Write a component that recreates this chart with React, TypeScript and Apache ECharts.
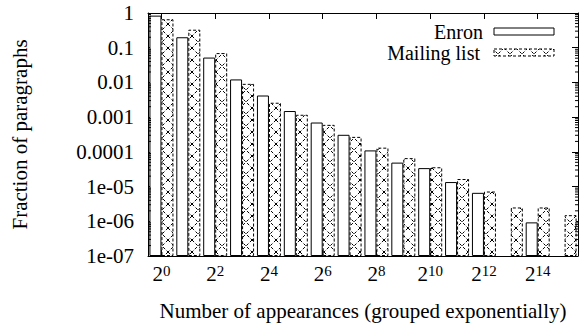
import React, { useEffect, useRef } from 'react';
import * as echarts from 'echarts';

// exponents of the category groups (2^k)
const exponents = [0, 1, 2, 3, 4, 5, 6, 7, 8, 9, 10, 11, 12, 13, 14, 15];
const seriesNames = ['Enron', 'Mailing list'];
const enron = [0.84, 0.2, 0.052, 0.0122, 0.0042, 0.0015, 0.0007, 0.00031, 0.00011, 4.9e-5, 3.4e-5, 1.35e-5, 6.6e-6, null, 9.3e-7, null];
const mailing = [0.66, 0.33, 0.07, 0.0091, 0.0026, 0.00117, 0.0006, 0.00027, 0.000132, 6.6e-5, 3.6e-5, 1.65e-5, 7.2e-6, 2.5e-6, 2.5e-6, 1.5e-6];
const yMin = 1e-7;
const yMax = 1;
const minorMultipliers = [2, 3, 4, 5, 6, 7, 8, 9];
const minorDecades = [-7, -6, -5, -4, -3, -2, -1];

const FONT = 'Liberation Serif, serif';

function makePattern(): HTMLCanvasElement {
  const c = document.createElement('canvas');
  c.width = 12;
  c.height = 12;
  const ctx = c.getContext('2d')!;
  ctx.fillStyle = '#fff';
  ctx.fillRect(0, 0, 12, 12);
  ctx.strokeStyle = '#000';
  ctx.lineWidth = 1;
  ctx.setLineDash([3, 2]);
  ctx.beginPath();
  ctx.moveTo(0, 0);
  ctx.lineTo(12, 12);
  ctx.moveTo(12, 0);
  ctx.lineTo(0, 12);
  ctx.stroke();
  return c;
}

function fmtY(v: number): string {
  const e = Math.round(Math.log10(v));
  if (e === 0) return '1';
  if (e >= -4) return (Math.pow(10, e)).toFixed(-e);
  const a = -e;
  return '1e-' + (a < 10 ? '0' + a : String(a));
}

export default function App() {
  const ref = useRef<HTMLDivElement>(null);
  useEffect(() => {
    if (!ref.current) return;
    const chart = echarts.init(ref.current, null, { renderer: 'svg' });
    const pattern = makePattern();
    const minorData: number[][] = [];
    minorDecades.forEach((d) => minorMultipliers.forEach((m) => minorData.push([0, m * Math.pow(10, d)])));
    const cats = exponents.map((e) => String(e));

    const option: any = {
      animation: false,
      backgroundColor: '#fff',
      grid: { left: 148, right: 6, top: 13, bottom: 68, containLabel: false },
      xAxis: [
        {
          type: 'category',
          data: cats,
          position: 'bottom',
          axisLine: { lineStyle: { color: '#000', width: 1 } },
          axisTick: { show: true, inside: true, length: 6, alignWithLabel: true, interval: (i: number) => i % 2 === 0, lineStyle: { color: '#000' } },
          axisLabel: {
            interval: 1,
            margin: 7,
            formatter: (v: string) => '{b|2}{s|' + v + '}',
            rich: {
              b: { fontFamily: FONT, fontSize: 21, color: '#000', lineHeight: 21, verticalAlign: 'bottom' },
              s: { fontFamily: FONT, fontSize: 15, color: '#000', lineHeight: 15, verticalAlign: 'top', padding: [0, 0, 9, 0] },
            },
          },
          name: 'Number of appearances (grouped exponentially)',
          nameLocation: 'middle',
          nameGap: 44,
          nameTextStyle: { fontFamily: FONT, fontSize: 21, color: '#000' },
          splitLine: { show: false },
        },
        {
          type: 'category',
          data: cats,
          position: 'top',
          axisLine: { lineStyle: { color: '#000', width: 1 } },
          axisTick: { show: true, inside: true, length: 6, alignWithLabel: true, interval: (i: number) => i % 2 === 0, lineStyle: { color: '#000' } },
          axisLabel: { show: false },
          splitLine: { show: false },
        },
      ],
      yAxis: [
        {
          type: 'log',
          logBase: 10,
          min: yMin,
          max: yMax,
          startValue: yMin,
          position: 'left',
          axisLine: { show: true, lineStyle: { color: '#000', width: 1 } },
          axisTick: { show: true, inside: true, length: 6, lineStyle: { color: '#000' } },
          axisLabel: { margin: 14, fontFamily: FONT, fontSize: 21, color: '#000', formatter: (v: number) => fmtY(v) },
          splitLine: { show: false },
          name: 'Fraction of paragraphs',
          nameLocation: 'middle',
          nameGap: 118,
          nameTextStyle: { fontFamily: FONT, fontSize: 21, color: '#000' },
        },
        {
          type: 'log',
          logBase: 10,
          min: yMin,
          max: yMax,
          position: 'right',
          axisLine: { show: true, lineStyle: { color: '#000', width: 1 } },
          axisTick: { show: true, inside: true, length: 6, lineStyle: { color: '#000' } },
          axisLabel: { show: false },
          splitLine: { show: false },
        },
      ],
      series: [
        {
          name: seriesNames[0],
          type: 'bar',
          data: enron,
          barWidth: 12,
          barGap: '0%',
          itemStyle: { color: '#fff', borderColor: '#000', borderWidth: 1 },
        },
        {
          name: seriesNames[1],
          type: 'bar',
          data: mailing,
          barWidth: 12,
          barGap: '0%',
          itemStyle: { color: { image: pattern, repeat: 'repeat' }, borderColor: '#000', borderWidth: 1, borderType: [3, 2] },
        },
        {
          type: 'custom',
          data: minorData,
          encode: { x: 0, y: 1 },
          silent: true,
          z: 5,
          renderItem: (params: any, api: any) => {
            const cs = params.coordSys;
            const y = api.coord([0, api.value(1)])[1];
            return {
              type: 'group',
              children: [
                { type: 'line', shape: { x1: cs.x, y1: y, x2: cs.x + 3, y2: y }, style: { stroke: '#000', lineWidth: 1 } },
                { type: 'line', shape: { x1: cs.x + cs.width - 3, y1: y, x2: cs.x + cs.width, y2: y }, style: { stroke: '#000', lineWidth: 1 } },
              ],
            };
          },
        },
      ],
      graphic: [
        { type: 'text', x: 483, y: 32, style: { text: seriesNames[0], font: '20px ' + FONT, fill: '#000', textAlign: 'right', textVerticalAlign: 'middle' } },
        { type: 'rect', shape: { x: 494, y: 28, width: 60, height: 7 }, style: { fill: '#fff', stroke: '#000', lineWidth: 1 } },
        { type: 'text', x: 480, y: 53, style: { text: seriesNames[1], font: '20px ' + FONT, fill: '#000', textAlign: 'right', textVerticalAlign: 'middle' } },
        { type: 'rect', shape: { x: 494, y: 49, width: 60, height: 7 }, style: { fill: { image: pattern, repeat: 'repeat' }, stroke: '#000', lineWidth: 1, lineDash: [3, 2] } },
      ],
    };
    chart.setOption(option);
    return () => chart.dispose();
  }, []);
  return <div ref={ref} style={{ position: 'fixed', left: 0, top: 0, width: 584, height: 326 }} />;
}
